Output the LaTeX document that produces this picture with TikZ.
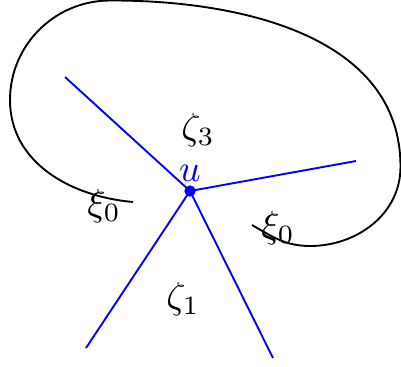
\documentclass[tikz,border=0pt]{standalone}
\usepackage{amsmath,amssymb}
\usepackage{xcolor}
\usetikzlibrary{positioning,calc}

\begin{document}
\begin{tikzpicture}[x=0.265pt,y=0.265pt,
		edge/.style={blue,line width=0.5pt},
		loop/.style={line width=0.5pt},
		lbl/.style={inner sep=1pt}]
		\useasboundingbox (0,0) rectangle (401,366);
		% vertex and blue edges
		\coordinate (u) at (190,175);
		\coordinate (nw) at (65,289);
		\coordinate (ea) at (356,205);
		\coordinate (sw) at (86,18);
		\coordinate (se) at (273,8);
		\draw[edge] (u)--(nw);
		\draw[edge] (u)--(ea);
		\draw[edge] (u)--(sw);
		\draw[edge] (u)--(se);
		\fill[blue] (u) circle (1.5pt);
		% the loop
		\draw[loop] (133,164) to[out=175,in=270] (10,266) to[out=90,in=180] (110,365.5)
			.. controls (240,366) and (401,330) .. (400.5,199)
			to[out=270,in=0] (310,120) to[out=180,in=-30] (252,141);
		% labels
		\node[lbl,blue] (ul) at (190,193) {$u$};
		\node[lbl] (z3) at (198,236) {$\zeta_3$};
		\node[lbl] (z1) at (183,67) {$\zeta_1$};
		\node[lbl] (x0a) at (104,160) {$\xi_0$};
		\node[lbl] (x0b) at (278,138) {$\xi_0$};
	\end{tikzpicture}
\end{document}
